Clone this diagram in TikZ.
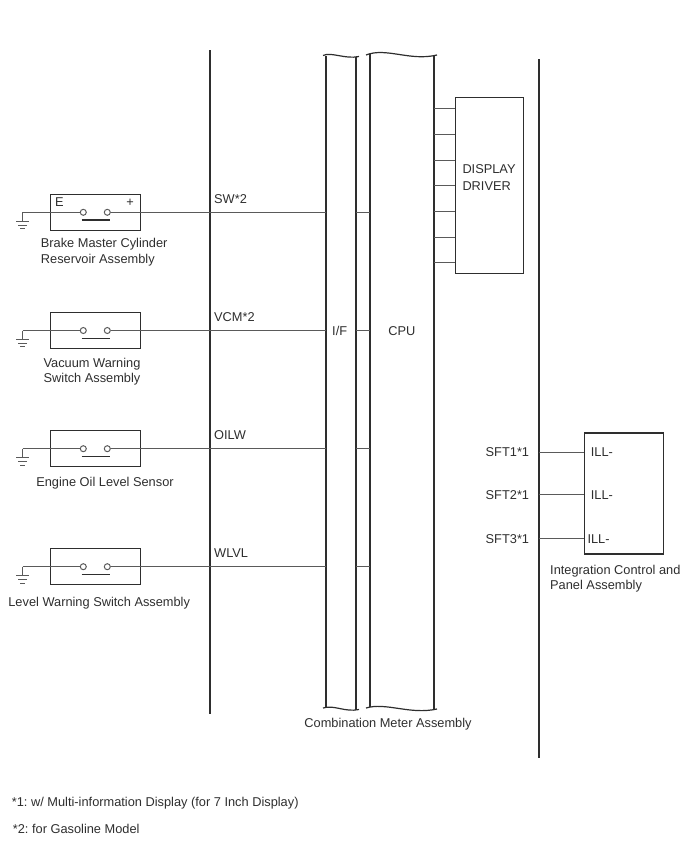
\documentclass[tikz,border=0pt]{standalone}
\usepackage{fontspec}
\setmainfont{Liberation Sans}
\frenchspacing
\definecolor{ink}{HTML}{2E2E2E}
\definecolor{wire}{HTML}{5A5A5A}
\begin{document}
\begin{tikzpicture}[x=1pt,y=-1pt,
  font=\fontsize{12.8}{15}\selectfont, text=ink,
  bus/.style={draw=ink, line width=1.8pt},
  wave/.style={draw=ink, line width=1.2pt},
  wirel/.style={draw=wire, line width=1pt},
  swbox/.style={draw=ink, line width=1.4pt, minimum width=90pt, minimum height=36pt, inner sep=0pt},
  bigbox/.style={draw=ink, line width=1.5pt, inner sep=0pt},
  contact/.style={circle, draw=wire, line width=1pt, minimum size=6pt, inner sep=0pt},
  lbl/.style={inner sep=0pt, anchor=base west},
  clbl/.style={inner sep=0pt, anchor=base},
  rlbl/.style={inner sep=0pt, anchor=base east}]
\useasboundingbox (0,0) rectangle (688,852);

% ---- bus lines ----
\coordinate (lbTop) at (210,50);  \coordinate (lbBot) at (210,714);
\draw[bus] (lbTop) -- (lbBot);
\coordinate (rbTop) at (539,59);  \coordinate (rbBot) at (539,758);
\draw[bus] (rbTop) -- (rbBot);

% ---- combination meter columns ----
\coordinate (ifLT) at (326,55.5); \coordinate (ifLB) at (326,708);
\coordinate (ifRT) at (356,57);   \coordinate (ifRB) at (356,710);
\coordinate (cpLT) at (370,54);   \coordinate (cpLB) at (370,707);
\coordinate (cpRT) at (434,56);   \coordinate (cpRB) at (434,709.5);
\draw[bus] (ifLT) -- (ifLB);
\draw[bus] (ifRT) -- (ifRB);
\draw[bus] (cpLT) -- (cpLB);
\draw[bus] (cpRT) -- (cpRB);
% wavy ends
\draw[wave] (323,55.5) .. controls (331,51.5) and (345,59.5) .. (359,56.5);
\draw[wave] (366,55) .. controls (386,47) and (410,61.5) .. (437,55);
\draw[wave] (323,708) .. controls (334,704.5) and (345,712.5) .. (359,709.5);
\draw[wave] (366,708) .. controls (386,702) and (410,715) .. (437,709);

\node[clbl] (iflbl) at (339.7,335.3) {I/F};
\node[clbl] (cpulbl) at (401.8,335.3) {CPU};
\node[clbl] (cma) at (388,727.6) {Combination Meter Assembly};

% ---- display driver ----
\node[bigbox, minimum width=67.6pt, minimum height=175.6pt] (dd) at (489.5,185.5) {};
\node[lbl] (ddl1) at (462.3,173.9) {DISPLAY};
\node[lbl] (ddl2) at (462.3,190.3) {DRIVER};
\foreach \k in {0,...,6} {
  \coordinate (ddst\k) at (434,108.7+25.67*\k);
  \draw[wirel] (ddst\k) -- (ddst\k -| dd.west);
}

% ---- switches ----
\foreach \y/\n/\sig in {212.3/brake/SW*2, 330.5/vac/VCM*2, 448.7/oil/OILW, 566.7/lvl/WLVL} {
  \node[swbox] (\n) at (95.7,\y) {};
  \node[contact] (\n-a) at (83.3,\y) {};
  \node[contact] (\n-b) at (107.3,\y) {};
  \coordinate (\n-g) at (22.7,\y);
  \coordinate (\n-if) at (326,\y);
  \coordinate (\n-ifr) at (356,\y);
  \coordinate (\n-cpu) at (370,\y);
  \draw[wirel] (\n-g) -- (\n-a);
  \draw[wirel] (\n-b) -- (\n-if);
  \draw[wirel] (\n-ifr) -- (\n-cpu);
  \draw[draw=ink, line width=1.5pt] (81.7,\y+7.8) -- (110,\y+7.8);
  \draw[wirel] (\n-g) -- ++(0,9) ++(-6.3,0) -- ++(12.6,0) ++(-2,3.8) -- ++(-8.6,0) ++(2,3.6) -- ++(4.6,0);
  \node[lbl] (\n-sig) at (214,\y-8.9) {\sig};
}
\node[lbl] (brakeE) at (55,206.7) {E};
\node[inner sep=0pt] (brakeP) at (130.2,202.7) {+};

\node[lbl] (bl1) at (40.7,247.9) {Brake Master Cylinder};
\node[lbl] (bl2) at (40.7,263.9) {Reservoir Assembly};
\node[clbl] (vl1) at (92,367.1) {Vacuum Warning};
\node[clbl] (vl2) at (92,382.6) {Switch Assembly};
\node[clbl] (ol1) at (105,486.3) {Engine Oil Level Sensor};
\node[clbl] (ll1) at (99.2,606.9) {Level Warning Switch Assembly};

% ---- integration control and panel ----
\node[bigbox, minimum width=79pt, minimum height=121.3pt] (icp) at (623.8,493.4) {};
\foreach \y/\n/\ys/\xl in {452.3/1/456.9/590.7, 494/2/499.0/590.7, 538.3/3/543.4/587.3} {
  \coordinate (sft\n) at (539,\y);
  \draw[wirel] (sft\n) -- (sft\n -| icp.west);
  \node[rlbl] (sftl\n) at (529.3,\ys) {SFT\n*1};
  \node[lbl] (ill\n) at (\xl,\ys) {ILL-};
}
\node[lbl] (icpl1) at (550,574) {Integration Control and};
\node[lbl] (icpl2) at (550,589) {Panel Assembly};

% ---- footnotes ----
\node[lbl] (fn1) at (11.7,806.3) {*1: w/ Multi-information Display (for 7 Inch Display)};
\node[lbl] (fn2) at (12.7,833.6) {*2: for Gasoline Model};
\end{tikzpicture}
\end{document}
